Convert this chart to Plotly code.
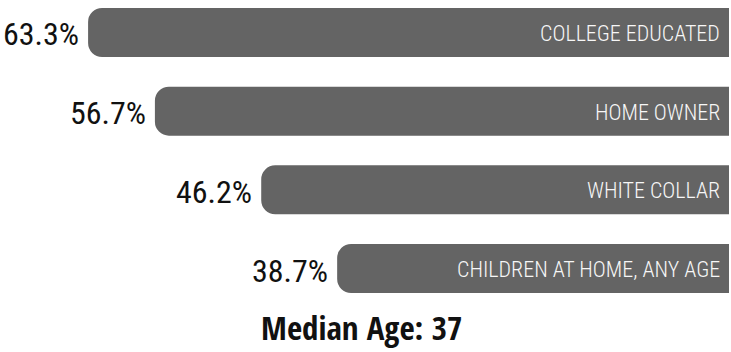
import plotly.graph_objects as go

# Audience profile shares (percent) and the matching row labels
categories = ["COLLEGE EDUCATED", "HOME OWNER", "WHITE COLLAR", "CHILDREN AT HOME, ANY AGE"]
values = [63.3, 56.7, 46.2, 38.7]
median_age = 37

BAR_COLOR = "#646464"
PCT_FONT = dict(family="Roboto Condensed, Roboto, sans-serif", weight=400, size=32, color="#111111")
CAT_FONT = dict(family="Roboto Condensed, Roboto, sans-serif", weight=300, size=22, color="#f7f7f7")
AGE_FONT = dict(family="Open Sans Condensed, Roboto Condensed, sans-serif", weight=700, size=33, color="#111111")

fig = go.Figure(
    go.Bar(
        y=list(range(len(categories))),
        x=values,
        orientation="h",
        marker=dict(color=BAR_COLOR, line=dict(width=0)),
        width=0.623,
        hoverinfo="skip",
    )
)

annotations = []
for i, (cat, v) in enumerate(zip(categories, values)):
    # percentage to the left of the rounded bar end
    annotations.append(dict(
        x=v, y=i, xref="x", yref="y", text=f"{v:.1f}%",
        showarrow=False, xanchor="right", yanchor="middle",
        xshift=-7, yshift=-2, font=PCT_FONT,
    ))
    # category name inside the bar, flush right
    annotations.append(dict(
        x=0, y=i, xref="x", yref="y", text=cat,
        showarrow=False, xanchor="right", yanchor="middle",
        xshift=-7, yshift=-1, font=CAT_FONT,
    ))

annotations.append(dict(
    x=361 / 729, y=1 - 327 / 352, xref="paper", yref="paper", text=f"Median Age: {median_age}",
    showarrow=False, xanchor="center", yanchor="middle", font=AGE_FONT,
))

fig.update_layout(
    width=731, height=352,
    margin=dict(l=0, r=2, t=0, b=0),
    paper_bgcolor="white", plot_bgcolor="white",
    barcornerradius=14,
    showlegend=False,
    xaxis=dict(range=[72, 0], visible=False, fixedrange=True),
    yaxis=dict(range=[4.061, -0.413], visible=False, fixedrange=True),
    annotations=annotations,
)

fig.write_html("out.html")
